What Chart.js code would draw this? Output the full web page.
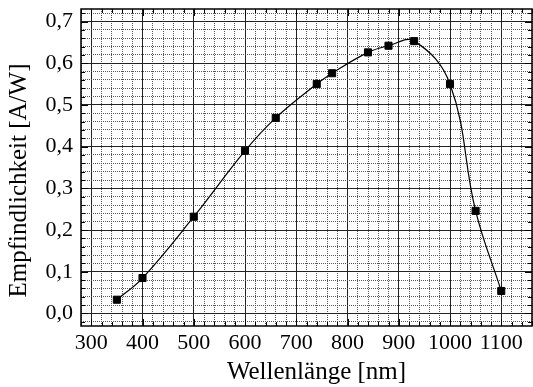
<!DOCTYPE html>
<html>
<head>
<meta charset="utf-8">
<script src="https://cdn.jsdelivr.net/npm/chart.js"></script>
<style>
  html, body { margin: 0; padding: 0; background: #fff; }
  #wrap { width: 533px; height: 387px; }
</style>
</head>
<body>
<div id="wrap"><canvas id="myChart"></canvas></div>
<script>
// data
const wavelengths = [350, 400, 500, 600, 660, 740, 770, 840, 880, 930, 1000, 1050, 1100]
const sensitivity = [0.033, 0.085, 0.232, 0.390, 0.469, 0.550, 0.576, 0.626, 0.642, 0.653, 0.550, 0.246, 0.054]

// axis ticks (labelled ones)
const xTickLabels = ['300', '400', '500', '600', '700', '800', '900', '1000', '1100']
const yTickLabels = ['0,0', '0,1', '0,2', '0,3', '0,4', '0,5', '0,6', '0,7']

const xTitle = 'Wellenlänge [nm]'
const yTitle = 'Empfindlichkeit [A/W]'

const serif = '"Liberation Serif", "DejaVu Serif", serif'

// minor tick every 20 nm / 0.02 A/W
function minorTicks(from, to, step) {
    let out = []
    for (let v = from; v <= to + step / 2; v += step) {
        out.push({ value: Math.round(v * 1000) / 1000 })
    }
    return out
}
function isMajor(v, step) {
    return Math.abs(v / step - Math.round(v / step)) < 1e-6
}

// inward ticks + frame, drawn over the grid
const frameTicks = {
    id: 'frameTicks',
    beforeDatasetsDraw(chart) {
        const { ctx, chartArea: a } = chart
        const xs = chart.scales.x
        const ys = chart.scales.y
        ctx.save()
        ctx.strokeStyle = '#000'
        ctx.lineWidth = 1
        ctx.beginPath()
        xs.ticks.forEach(t => {
            const px = Math.round(xs.getPixelForValue(t.value)) + 0.5
            const len = isMajor(t.value, 100) ? 7 : 4
            ctx.moveTo(px, a.bottom); ctx.lineTo(px, a.bottom - len)
            ctx.moveTo(px, a.top); ctx.lineTo(px, a.top + len)
        })
        ys.ticks.forEach(t => {
            const py = Math.round(ys.getPixelForValue(t.value)) + 0.5
            const len = isMajor(t.value, 0.1) ? 7 : 4
            ctx.moveTo(a.left, py); ctx.lineTo(a.left + len, py)
            ctx.moveTo(a.right, py); ctx.lineTo(a.right - len, py)
        })
        ctx.stroke()
        ctx.lineWidth = 1.5
        ctx.strokeRect(a.left, a.top, a.right - a.left, a.bottom - a.top)
        ctx.restore()
    },
    // axis titles sit a bit off-centre in the original, so place them by hand
    afterDraw(chart) {
        const { ctx, chartArea: a } = chart
        ctx.save()
        ctx.fillStyle = '#000'
        ctx.font = '25px ' + serif
        ctx.textAlign = 'center'
        ctx.textBaseline = 'middle'
        ctx.fillText(xTitle, (a.left + a.right) / 2 + 10, 372)
        ctx.translate(19, (a.top + a.bottom) / 2 + 13)
        ctx.rotate(-Math.PI / 2)
        ctx.fillText(yTitle, 0, 0)
        ctx.restore()
    }
}

let ctx = document.getElementById('myChart').getContext('2d')

const data = {
    datasets: [{
        data: wavelengths.map((w, i) => ({ x: w, y: sensitivity[i] })),
        borderColor: '#000',
        borderWidth: 1.2,
        backgroundColor: '#000',
        pointStyle: 'rect',
        pointRadius: 5,
        pointBorderWidth: 1,
        pointBorderColor: '#000',
        pointBackgroundColor: '#000',
        tension: 0.4,
        fill: false,
    }]
}

const gridColor = c => (c.tick && isMajor(c.tick.value, c.scale.axis === 'x' ? 100 : 0.1)) ? '#222' : '#555'
const gridDash = c => {
    if (!c.tick) return []
    return isMajor(c.tick.value, c.scale.axis === 'x' ? 100 : 0.1) ? [] : [1, 1]
}

const config = {
    type: 'line',
    data: data,
    plugins: [frameTicks],
    options: {
        responsive: true,
        maintainAspectRatio: false,
        animation: false,
        layout: { autoPadding: false, padding: { top: 9, right: 1, left: 0, bottom: 0 } },
        plugins: {
            legend: { display: false },
            tooltip: { enabled: false },
        },
        scales: {
            x: {
                type: 'linear',
                min: 280,
                max: 1160,
                afterBuildTicks: s => { s.ticks = minorTicks(280, 1160, 20) },
                afterFit: s => { s.height = 61; s.paddingLeft = 0; s.paddingRight = 0 },
                grid: { color: gridColor, lineWidth: 1, drawTicks: false },
                border: { display: false, dash: gridDash },
                ticks: {
                    autoSkip: false,
                    maxRotation: 0,
                    padding: 4,
                    color: '#000',
                    font: { family: serif, size: 22 },
                    callback: v => {
                        let i = xTickLabels.indexOf(String(Math.round(v)))
                        return i >= 0 ? xTickLabels[i] : ''
                    }
                }
            },
            y: {
                min: -0.03,
                max: 0.73,
                afterBuildTicks: s => { s.ticks = minorTicks(-0.02, 0.72, 0.02) },
                afterFit: s => { s.width = 81; s.paddingTop = 0; s.paddingBottom = 0 },
                grid: { color: gridColor, lineWidth: 1, drawTicks: false },
                border: { display: false, dash: gridDash },
                ticks: {
                    autoSkip: false,
                    padding: 8,
                    color: '#000',
                    font: { family: serif, size: 22 },
                    callback: v => {
                        if (!isMajor(v, 0.1) || v < 0) return ''
                        return yTickLabels[Math.round(v * 10)] || ''
                    }
                }
            }
        }
    }
}

const myChart = new Chart(ctx, config)
</script>
</body>
</html>
